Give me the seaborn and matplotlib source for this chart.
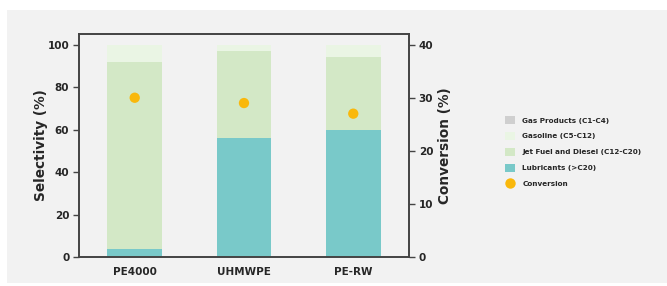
import numpy as np
import pandas as pd
import seaborn as sns
import matplotlib.pyplot as plt
from matplotlib.patches import Patch, Rectangle
from matplotlib.lines import Line2D

# Data
samples = ["PE4000", "UHMWPE", "PE-RW"]
lubricants = [4, 56, 60]
jet_diesel = [88, 41, 34]
gasoline = [8, 3, 6]
gas_products = [0, 0, 0]
conversion = [30, 29, 27]

colors = {
    "Gas Products (C1-C4)": "#cfcfcf",
    "Gasoline (C5-C12)": "#eaf5e4",
    "Jet Fuel and Diesel (C12-C20)": "#d3e8c6",
    "Lubricants (>C20)": "#79c9c9",
}
conv_color = "#f9b80c"
bg = "#f2f2f2"

df = pd.DataFrame({
    "Sample": samples,
    "Lubricants (>C20)": lubricants,
    "Jet Fuel and Diesel (C12-C20)": jet_diesel,
    "Gasoline (C5-C12)": gasoline,
    "Gas Products (C1-C4)": gas_products,
    "Conversion": conversion,
})

stack_order = ["Lubricants (>C20)", "Jet Fuel and Diesel (C12-C20)",
               "Gasoline (C5-C12)", "Gas Products (C1-C4)"]
cum = df[stack_order].cumsum(axis=1)

sns.set_theme(style="white")
plt.rcParams["font.family"] = ["DejaVu Sans"]

fig = plt.figure(figsize=(6.67, 2.86), dpi=100)
fig.patch.set_facecolor("white")
fig.patches.append(Rectangle((7 / 667, 1 - 283 / 286), 1, 273 / 286,
                             transform=fig.transFigure, facecolor=bg,
                             edgecolor="none", zorder=-10))

ax = fig.add_axes([0.1184, 0.1014, 0.4948, 0.7796])
ax.set_facecolor(bg)

# stacked bars: draw cumulative totals from the top layer down
for col in reversed(stack_order):
    sns.barplot(x=df["Sample"], y=cum[col], color=colors[col], width=0.5,
                saturation=1, ax=ax, linewidth=0)

ax.set_ylim(0, 105)
ax.set_xlim(-0.51, 2.51)
ax.set_yticks([0, 20, 40, 60, 80, 100])
ax.set_xlabel("")
ax.set_ylabel("Selectivity (%)", fontsize=9.8, fontweight="heavy", labelpad=-0.5)

ax2 = ax.twinx()
sns.scatterplot(x=df["Sample"], y=df["Conversion"], ax=ax2, color=conv_color,
                s=55, edgecolor="none", zorder=5)
ax2.set_ylim(0, 42)
ax2.set_yticks([0, 10, 20, 30, 40])
ax2.set_ylabel("Conversion (%)", fontsize=9.8, fontweight="heavy", labelpad=3.5)

for a in (ax, ax2):
    for s in a.spines.values():
        s.set_color("#444444")
        s.set_linewidth(1.2)
    a.tick_params(axis="y", length=4, width=1, color="#444444", direction="out",
                  labelsize=7.5, pad=3)
    for lab in a.get_yticklabels():
        lab.set_fontweight("bold")
ax.tick_params(axis="x", length=0, labelsize=7.5, pad=7)
for lab in ax.get_xticklabels():
    lab.set_fontweight("bold")
ax.tick_params(axis="y", left=True)
ax2.tick_params(axis="y", right=True)

handles = [Patch(facecolor=colors[c], edgecolor="none", label=c)
           for c in ["Gas Products (C1-C4)", "Gasoline (C5-C12)",
                     "Jet Fuel and Diesel (C12-C20)", "Lubricants (>C20)"]]
handles.append(Line2D([], [], marker="o", linestyle="none", markersize=7.5,
                      markerfacecolor=conv_color, markeredgecolor="none",
                      label="Conversion"))
leg = fig.legend(handles=handles, loc="upper left",
                 bbox_to_anchor=(505 / 667, 1 - 116 / 286), frameon=False,
                 prop={"size": 5.2, "weight": "bold"}, handlelength=1.4,
                 handleheight=1.4, handletextpad=1.0, labelspacing=1.05,
                 borderpad=0, borderaxespad=0)

fig.savefig("out.png", dpi=100, facecolor=fig.get_facecolor())
